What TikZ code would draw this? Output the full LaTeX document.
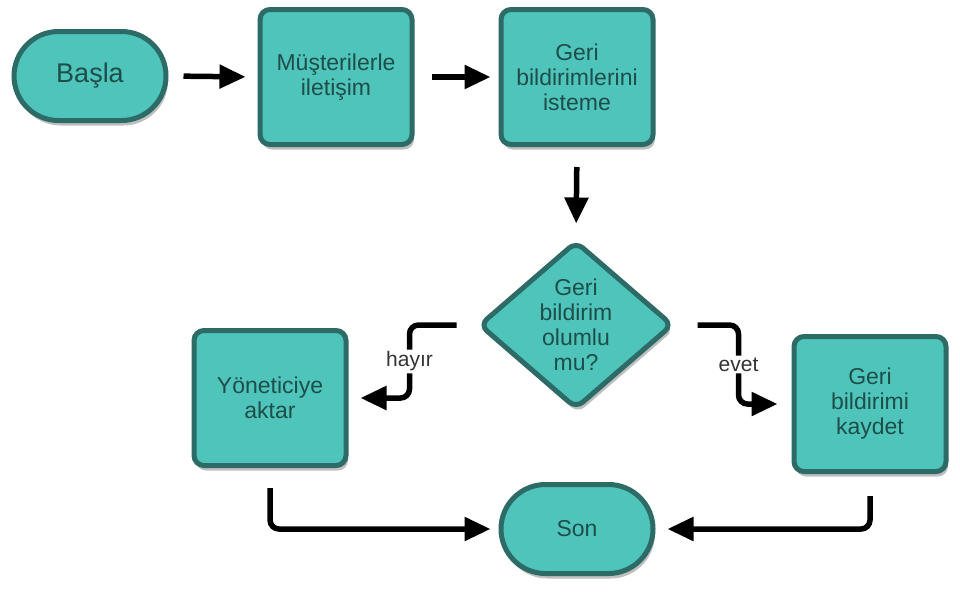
\documentclass[tikz,border=0pt]{standalone}
\usepackage{fontspec}
\setmainfont{Liberation Sans}
\usetikzlibrary{arrows.meta,shapes.geometric,shapes.misc,shadows}
\definecolor{tealfill}{HTML}{4EC4BB}
\definecolor{tealedge}{HTML}{2D6B66}
\definecolor{tealtext}{HTML}{1E4E4A}
\tikzset{
  base/.style={draw=tealedge, line width=5pt, fill=tealfill, text=tealtext,
    align=center, font=\fontsize{23}{25}\selectfont,
    drop shadow={shadow xshift=2pt, shadow yshift=-5pt, opacity=0.25, fill=black}},
  procbox/.style={base, rectangle, rounded corners=10pt, minimum width=152pt, minimum height=135pt, inner sep=0pt},
  termbox/.style={base, rounded rectangle, minimum width=152pt, minimum height=89pt, inner sep=0pt},
  decbox/.style={base, diamond, aspect=1.13, rounded corners=9pt, minimum width=194pt, minimum height=168pt, inner sep=0pt},
  arr/.style={line width=5.5pt, black, rounded corners=9pt, -{Triangle[length=26pt,width=23pt]}},
  lbl/.style={fill=white, text=black!80, font=\fontsize{21}{24}\selectfont, inner sep=2pt}
}
\begin{document}
\begin{tikzpicture}[x=1pt,y=-1pt]
\useasboundingbox (0,0) rectangle (960,600);
\fill[white] (0,0) rectangle (960,600);
\node[termbox, font=\fontsize{27}{30}\selectfont] (basla) at (90,76) {Başla};
\node[procbox] (must) at (336,77) {Müşterilerle\\iletişim};
\node[procbox] (geri) at (577,77) {Geri\\bildirimlerini\\isteme};
\node[decbox] (dec) at (576,325) {Geri\\bildirim\\olumlu\\mu?};
\node[procbox] (yon) at (270,398) {Yöneticiye\\aktar};
\node[procbox] (kay) at (870,404) {Geri\\bildirimi\\kaydet};
\node[termbox] (son) at (577,529) {Son};

\draw[arr, shorten <=15pt, shorten >=12pt] (basla.east) -- (must.west);
\draw[arr, shorten <=17pt, shorten >=8pt] (must.east) -- (geri.west);
\draw[arr, shorten <=20pt, shorten >=15pt] (geri.south) -- (dec.north);
\draw[arr, shorten <=22pt, shorten >=14pt] (dec.east) -- ++(63,0) |- node[lbl, pos=0.25] (evet) {evet} (kay.west);
\draw[arr, shorten <=20pt, shorten >=12pt] (dec.west) -- ++(-67,0) |- node[lbl, pos=0.25] (hayir) {hayır} (yon.east);
\draw[arr, shorten <=20pt, shorten >=8pt] (yon.south) |- (son.west);
\draw[arr, shorten <=22pt, shorten >=12pt] (kay.south) |- (son.east);
\end{tikzpicture}
\end{document}
